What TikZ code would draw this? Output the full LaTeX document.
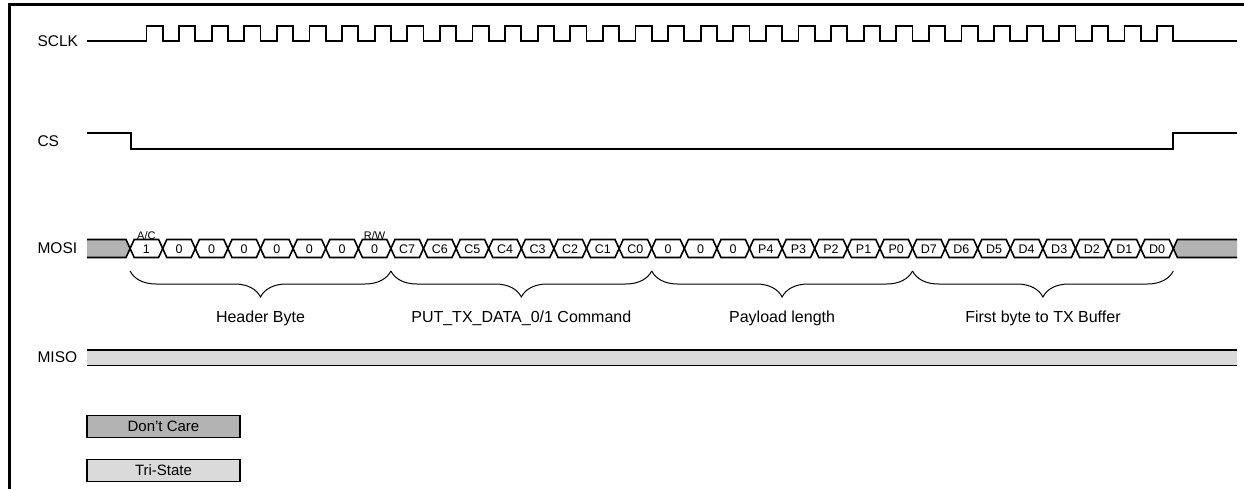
\documentclass[tikz,border=0pt]{standalone}
\usepackage{fontspec}
\setmainfont{Liberation Sans}
\usetikzlibrary{decorations.pathreplacing, positioning}

\definecolor{dcgray}{HTML}{B3B3B3}
\definecolor{tsgray}{HTML}{DADADA}

\begin{document}
\begin{tikzpicture}[
    x=1pt, y=-1pt,
    frame/.style={line width=2.4pt},
    wave/.style={line width=1.8pt, line join=miter},
    bus/.style={line width=1.6pt, line join=miter},
    signame/.style={font=\fontsize{15.5}{17}\selectfont, anchor=west},
    bit/.style={font=\fontsize{12.5}{13}\selectfont, inner sep=0pt},
    flag/.style={font=\fontsize{11}{12}\selectfont, inner sep=0pt},
    field/.style={font=\fontsize{16}{18}\selectfont},
    brace/.style={decorate, decoration={brace, mirror, amplitude=26pt, aspect=0.5}, line width=1pt},
    legend/.style={draw, line width=1.8pt, minimum width=153pt, minimum height=22pt,
                   inner sep=0pt, font=\fontsize{15}{16}\selectfont}
]

\useasboundingbox (0,0) rectangle (1244,489);

% Draw frame
\draw[frame] (9.5,489) -- (9.5,4.5) -- (1244,4.5);

% Signal names
\node[signame] (sclk) at (34,41) {SCLK};
\node[signame] (cs) at (34,141) {CS};
\node[signame] (mosi) at (34,248.5) {MOSI};
\node[signame] (miso) at (34,357) {MISO};

% Draw clock
\draw[wave] (87,41)
    \foreach \k in {0,...,31} {
        -- ({130.1+(\k+0.5)*32.6},41) -- ++(0,-15)
        -- ({130.1+(\k+1)*32.6},26) -- ++(0,15)
    } -- (1237,41);

% Draw chip select
\draw[wave] (87,133) -- (130.6,133) -- (130.6,149.3) -- (1173.3,149.3)
    -- (1173.3,133) -- (1237,133);

% Draw MOSI don't care ends
\fill[dcgray] (87,239.5) -- (126,239.5) -- (130.1,248.5) -- (126,257.5) -- (87,257.5) -- cycle;
\draw[bus] (87,239.5) -- (126,239.5) -- (130.1,248.5) -- (126,257.5) -- (87,257.5);
\fill[dcgray] (1237,239.5) -- (1177.4,239.5) -- (1173.3,248.5) -- (1177.4,257.5) -- (1237,257.5) -- cycle;
\draw[bus] (1237,239.5) -- (1177.4,239.5) -- (1173.3,248.5) -- (1177.4,257.5) -- (1237,257.5);

% Draw MOSI bits
\foreach \lbl [count=\k from 0] in {1,0,0,0,0,0,0,0,C7,C6,C5,C4,C3,C2,C1,C0,
                                   0,0,0,P4,P3,P2,P1,P0,D7,D6,D5,D4,D3,D2,D1,D0} {
    \draw[bus] ({130.1+\k*32.6},248.5) -- ++(4.1,-9) -- ({130.1+(\k+1)*32.6-4.1},239.5)
        -- ++(4.1,9) -- ++(-4.1,9) -- ({130.1+\k*32.6+4.1},257.5) -- cycle;
    \node[bit] (bit\k) at ({130.1+(\k+0.5)*32.6},249) {\lbl};
}

% Flags above bits
\node[flag, above=5pt of bit0] (ac) {A/C};
\node[flag, above=5pt of bit7] (rw) {R/W};

% Braces under the fields
\foreach \k in {0,...,4}
    \coordinate (b\k) at ({130.1+\k*8*32.6},271);
\draw[brace] (b0) -- (b1);
\draw[brace] (b1) -- (b2);
\draw[brace] (b2) -- (b3);
\draw[brace] (b3) -- (b4);

\node[field] (hdr) at (260.5,318) {Header Byte};
\node[field] (cmd) at (521.3,318) {PUT\_TX\_DATA\_0/1 Command};
\node[field] (len) at (782.1,318) {Payload length};
\node[field] (dat) at (1042.9,318) {First byte to TX Buffer};

% Draw MISO tri-state
\fill[tsgray] (87,350) rectangle (1237,365.5);
\draw[bus] (87,350) -- (1237,350);
\draw[bus] (87,365.5) -- (1237,365.5);

% Legend
\node[legend, fill=dcgray] (dc) at (163.5,426.5) {Don't Care};
\node[legend, fill=tsgray] (ts) at (163.5,470.5) {Tri-State};

\end{tikzpicture}
\end{document}
